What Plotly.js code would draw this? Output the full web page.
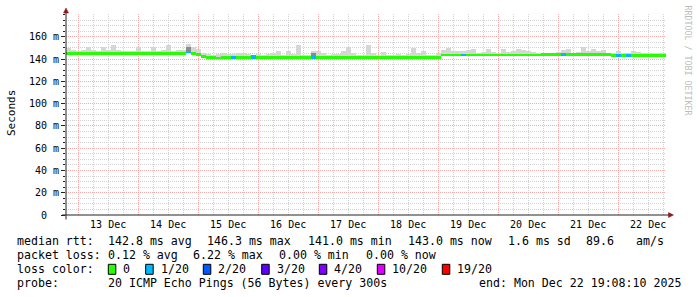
<!DOCTYPE html>
<html><head><meta charset="utf-8">
<script src="https://cdn.plot.ly/plotly-3.0.1.min.js"></script>
<style>html,body{margin:0;padding:0;background:#fff;overflow:hidden}#chart{width:697px;height:297px}</style>
</head><body><div id="chart"></div>
<script>
// ---------------- data ----------------
const startTime = Date.UTC(2025, 11, 12, 19, 8, 10);   // 12 Dec 19:08:10
const endTime   = Date.UTC(2025, 11, 22, 19, 8, 10);   // 22 Dec 19:08:10
const binHours = 2;

// median RTT per 2-hour bin (ms)
const medianMs = [
 145.1,145.1,145.1,145.1,145.1,145.1,145.1,145.1,145.1,145.1,
 145.1,145.1,145.1,145.1,145.1,145.1,145.1,145.1,145.1,145.1,
 145.1,145.1,145.1,145.1,146.3,145.1,143.9,142.6,141.7,141.3,
 141.0,141.5,141.4,141.3,141.2,141.2,141.2,141.3,141.2,141.2,
 141.6,141.2,141.2,141.3,141.2,141.2,141.2,141.3,141.2,141.2,
 141.2,141.3,141.6,141.2,141.2,141.2,141.3,141.2,141.2,141.2,
 141.3,141.2,141.2,141.5,141.6,141.5,141.2,141.2,141.3,141.2,
 141.2,141.2,141.3,141.2,141.2,143.6,143.6,143.6,143.6,143.6,
 143.6,143.6,143.6,143.6,143.6,143.6,143.6,143.6,143.6,143.6,
 143.6,143.6,143.6,143.6,143.6,144.2,144.2,144.2,144.2,144.2,
 144.2,144.2,144.2,144.2,144.2,144.2,144.2,144.2,144.2,143.3,
 143.3,143.3,143.3,143.3,143.3,143.3,143.3,143.3,143.3,143.0
];
// lost pings (out of 20) per bin
const lossCount = [
 0,0,0,0,0,0,0,0,0,0, 0,0,0,0,0,0,0,0,0,0,
 0,0,0,0,1,0,0,0,0,0, 0,0,0,1,0,0,0,1,0,0,
 0,0,0,0,0,0,0,0,0,1, 0,0,0,0,0,0,0,0,0,0,
 0,0,0,0,0,0,0,0,0,0, 0,0,0,0,0,0,0,0,0,1,
 0,0,0,0,0,0,0,0,0,0, 0,0,0,0,0,0,0,0,0,1,
 0,0,0,0,0,0,0,0,0,0, 1,0,1,0,0,0,0,0,0,0
];
// highest ping per bin (smoke top, ms)
const smokeTopMs = [
 149.9,148.1,146.9,148.1,150.5,148.1,146.9,150.5,148.1,152.9,
 148.1,146.9,146.9,147.5,150.5,147.5,146.9,150.5,146.9,148.1,
 152.9,146.9,148.1,148.1,153.5,150.5,149.3,145.1,144.5,143.9,
 144.5,145.7,144.5,144.5,145.7,145.7,144.5,143.9,144.5,144.0,
 144.5,145.7,146.9,143.9,147.5,144.5,152.3,143.9,143.9,146.9,
 146.9,145.4,143.3,144.5,144.5,146.9,151.1,145.4,143.9,143.9,
 152.3,145.4,143.9,146.3,143.9,143.9,144.5,143.9,144.5,149.9,
 145.4,146.9,143.9,143.9,145.4,148.1,149.9,146.9,147.5,147.5,
 148.1,149.3,145.7,146.3,149.3,146.3,145.7,149.3,146.3,146.9,
 149.3,148.1,146.9,146.3,145.7,145.7,145.7,145.7,146.3,148.1,
 149.3,145.7,146.3,150.5,147.5,149.3,146.9,148.1,145.7,145.7,
 146.9,145.7,145.7,147.5,146.3,145.7,145.7,145.1,145.1,145.1
];
// dense (darker) smoke core per bin, null where none is visible
const smokeCoreMs = new Array(120).fill(null);
smokeCoreMs[24] = 151.0; smokeCoreMs[37] = 143.9; smokeCoreMs[49] = 145.4;

const lossLevels = [0, 1, 2, 3, 4, 10, 19];
const lossLabels = ['0', '1/20', '2/20', '3/20', '4/20', '10/20', '19/20'];
const lossColors = ['#26ff00', '#00b8ff', '#0059ff', '#5e00ff', '#7e00ff', '#dd00ff', '#ff0000'];

const yTickVals = [0, 20, 40, 60, 80, 100, 120, 140, 160];
const yTickText = ['0\u00a0\u00a0', '20 m', '40 m', '60 m', '80 m', '100 m', '120 m', '140 m', '160 m'];

const rttValues = [142.8, 146.3, 141.0, 143.0, 1.6];
const rttNames  = ['avg', 'max', 'min', 'now', 'sd'];
const amPerSec  = 89.6;
const lossPctValues = [0.12, 6.22, 0.00, 0.00];
const lossPctNames  = ['avg', 'max', 'min', 'now'];
const probeText = '20 ICMP Echo Pings (56 Bytes) every 300s';
const endText = 'end: Mon Dec 22 19:08:10 2025';

// ---------------- layout geometry ----------------
const L = 66, R = 666, T = 14, B = 215, YMAX = 180.5;
const pxX = x => (x - L) / (R - L);
const pxY = y => (B - y) / (B - T);
const pxPerMs = (B - T) / YMAX;
const halfLine = 1.35 / pxPerMs;
const binMs = binHours * 3600 * 1000;
const FONT = 'DejaVu Sans Mono';

const xs = medianMs.map((_, i) => startTime + (i + 0.5) * binMs);
const base = medianMs.map(m => m - halfLine);
const colorOf = n => lossColors[Math.max(0, lossLevels.filter(l => l <= n).length - 1)];

const traces = [
  { type: 'bar', x: xs, base: base, y: smokeTopMs.map((t, i) => t - base[i]), width: binMs,
    marker: { color: '#d6d6d6', line: { width: 0 } }, hoverinfo: 'skip' },
  { type: 'bar', x: xs, base: base, y: smokeCoreMs.map((t, i) => t === null ? null : t - base[i]), width: binMs,
    marker: { color: '#8a8a8a', line: { width: 0 } }, hoverinfo: 'skip' },
  { type: 'bar', x: xs, base: base, y: medianMs.map(() => 2 * halfLine), width: binMs,
    marker: { color: lossCount.map(colorOf), line: { width: 0 } }, hoverinfo: 'skip' }
];

const ann = [];
const txt = (x, y, s, extra) => ann.push(Object.assign({ xref: 'paper', yref: 'paper', x: pxX(x), y: pxY(y),
  text: s, showarrow: false, xanchor: 'left', yanchor: 'middle', borderpad: 0,
  font: { family: FONT, size: 11.6, color: '#000' } }, extra || {}));

const rowY = [241.3, 255.3, 269.3, 283.3];
const rttX = [107.3, 206.7, 307.3, 407.7, 507.3];
txt(15.5, rowY[0], 'median rtt:');
rttValues.forEach((v, i) => txt(rttX[i] - 0.5, rowY[0], v.toFixed(1) + ' ms ' + rttNames[i]));
txt(585.2, rowY[0], amPerSec.toFixed(1));
txt(634.5, rowY[0], 'am/s');
const lossX = [107.3, 192.7, 278.7, 365.7];
txt(15.5, rowY[1], 'packet loss:');
lossPctValues.forEach((v, i) => txt(lossX[i] - 0.5, rowY[1], v.toFixed(2) + ' % ' + lossPctNames[i]));
txt(15.5, rowY[2], 'loss color:');
const boxX = [108.3, 145.7, 203.3, 261.7, 319.3, 377.3, 442.3];
const shapes = [];
lossLabels.forEach((lab, i) => {
  shapes.push({ type: 'rect', xref: 'paper', yref: 'paper', x0: pxX(boxX[i]), x1: pxX(boxX[i] + 7.5),
    y0: pxY(rowY[2] - 5), y1: pxY(rowY[2] + 5), fillcolor: lossColors[i], line: { color: '#000', width: 1 } });
  txt(boxX[i] + 14, rowY[2], lab);
});
txt(15.5, rowY[3], 'probe:');
txt(106.8, rowY[3], probeText);
txt(477.8, rowY[3], endText);

// y title and watermark
ann.push({ xref: 'paper', yref: 'paper', x: pxX(11), y: pxY(113), text: 'Seconds', showarrow: false,
  textangle: -90, xanchor: 'center', yanchor: 'middle', font: { family: FONT, size: 11, color: '#000' } });
ann.push({ xref: 'paper', yref: 'paper', x: pxX(687.5), y: pxY(60), text: 'RRDTOOL / TOBI OETIKER', showarrow: false,
  textangle: 90, xanchor: 'center', yanchor: 'middle', font: { family: FONT, size: 8.3, color: '#bdbdbd' } });

// axis lines and arrows
const axisColor = '#222', arrowColor = '#8b1a1a';
shapes.push({ type: 'line', xref: 'paper', yref: 'paper', x0: pxX(62), x1: pxX(669), y0: 0, y1: 0, line: { color: axisColor, width: 1 } });
shapes.push({ type: 'line', xref: 'paper', yref: 'paper', x0: 0, x1: 0, y0: pxY(219.5), y1: pxY(12), line: { color: axisColor, width: 1 } });
shapes.push({ type: 'path', xref: 'paper', yref: 'paper', fillcolor: arrowColor, line: { color: arrowColor, width: 0.5 },
  path: `M ${pxX(63.5)} ${pxY(13)} L ${pxX(68.5)} ${pxY(13)} L ${pxX(66)} ${pxY(8)} Z` });
shapes.push({ type: 'path', xref: 'paper', yref: 'paper', fillcolor: arrowColor, line: { color: arrowColor, width: 0.5 },
  path: `M ${pxX(668.5)} ${pxY(212.5)} L ${pxX(668.5)} ${pxY(217.5)} L ${pxX(673.5)} ${pxY(215)} Z` });

const layout = {
  width: 697, height: 297,
  margin: { l: L, r: 697 - R, t: T, b: 297 - B, pad: 0 },
  paper_bgcolor: '#fff', plot_bgcolor: '#fff',
  showlegend: false, hovermode: false, barmode: 'overlay', bargap: 0,
  font: { family: FONT, size: 10, color: '#000' },
  xaxis: {
    type: 'date', range: [startTime, endTime], fixedrange: true,
    tick0: Date.UTC(2025, 11, 13), dtick: 86400000, tickformat: '%d %b', ticklabelmode: 'period',
    showgrid: true, gridcolor: '#f2abab', griddash: '1px,1px', gridwidth: 1,
    ticks: '', showline: false, zeroline: false, ticklabelstandoff: 2,
    tickfont: { family: FONT, size: 10, color: '#000' },
    minor: { dtick: 6 * 3600000, tick0: Date.UTC(2025, 11, 13), showgrid: true, gridcolor: '#d2d2d2', griddash: '1px,1px', gridwidth: 1 }
  },
  yaxis: {
    range: [0, YMAX], fixedrange: true,
    tickmode: 'array', tickvals: yTickVals, ticktext: yTickText,
    showgrid: true, gridcolor: '#f2abab', griddash: '1px,1px', gridwidth: 1,
    ticks: 'outside', ticklen: 4, tickcolor: axisColor, tickwidth: 1,
    showline: false, zeroline: false,
    tickfont: { family: FONT, size: 10, color: '#000' },
    minor: { tickmode: 'linear', tick0: 0, dtick: 5, showgrid: true, gridcolor: '#d2d2d2', griddash: '1px,1px', gridwidth: 1,
      ticks: 'outside', ticklen: 2, tickcolor: axisColor }
  },
  annotations: ann, shapes: shapes
};

Plotly.newPlot('chart', traces, layout, { staticPlot: true, displayModeBar: false });
</script></body></html>
